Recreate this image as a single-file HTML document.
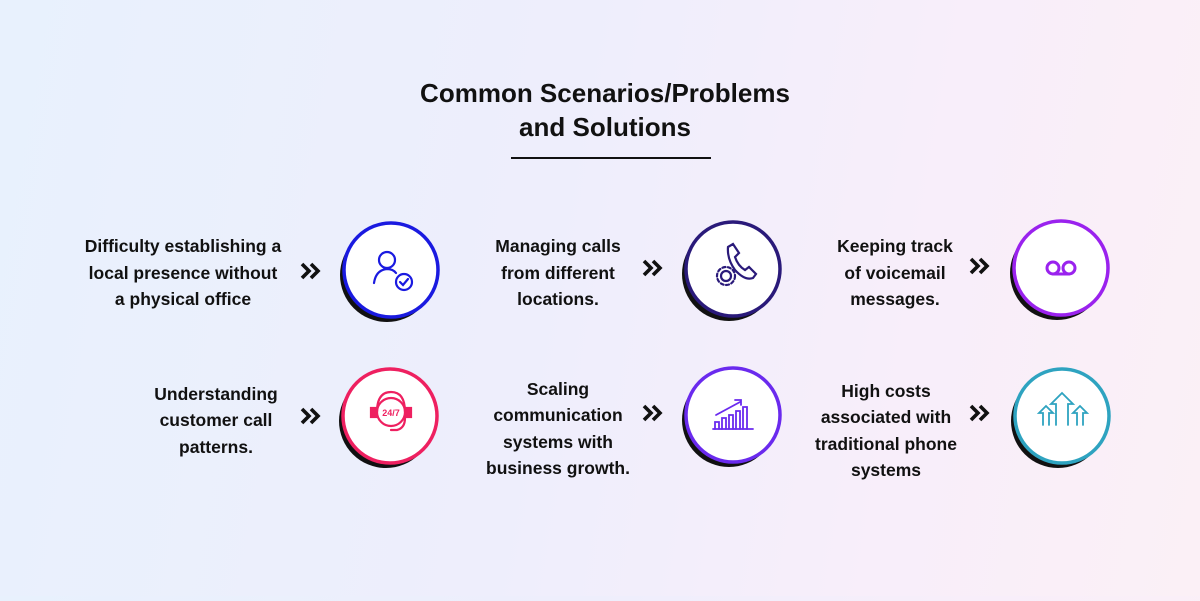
<!DOCTYPE html>
<html><head><meta charset="utf-8"><style>
html,body{margin:0;padding:0}
body{width:1200px;height:596px;overflow:hidden;background:linear-gradient(100deg,#e8f1fd 0%,#eeeefc 45%,#f8eefa 75%,#fbf0f6 100%);font-family:"Liberation Sans",sans-serif}
</style></head><body>
<svg width="1200" height="596" viewBox="0 0 1200 596" xmlns="http://www.w3.org/2000/svg" font-family="Liberation Sans, sans-serif">
<defs><g id="chev" fill="none" stroke="#111" stroke-width="3.6" stroke-linejoin="miter"><path d="M-9 -7 L-2 0 L-9 7 M0 -7 L7 0 L0 7"/></g></defs>
<text x="605" y="102" text-anchor="middle" font-size="26" font-weight="bold" fill="#111">Common Scenarios/Problems</text>
<text x="605" y="136" text-anchor="middle" font-size="26" font-weight="bold" fill="#111">and Solutions</text>
<rect x="511" y="157" width="200" height="2" fill="#111"/>
<g font-size="17.5" font-weight="bold" fill="#111" text-anchor="middle">
<text x="183" y="252">Difficulty establishing a</text>
<text x="183" y="279">local presence without</text>
<text x="183" y="305">a physical office</text>
<text x="558" y="252">Managing calls</text>
<text x="558" y="279">from different</text>
<text x="558" y="305">locations.</text>
<text x="895" y="252">Keeping track</text>
<text x="895" y="279">of voicemail</text>
<text x="895" y="305">messages.</text>
<text x="216" y="400">Understanding</text>
<text x="216" y="426">customer call</text>
<text x="216" y="453">patterns.</text>
<text x="558" y="395">Scaling</text>
<text x="558" y="421">communication</text>
<text x="558" y="448">systems with</text>
<text x="558" y="474">business growth.</text>
<text x="886" y="397">High costs</text>
<text x="886" y="423">associated with</text>
<text x="886" y="450">traditional phone</text>
<text x="886" y="476">systems</text>
</g>
<use href="#chev" x="311" y="271"/>
<use href="#chev" x="653" y="268"/>
<use href="#chev" x="980" y="266"/>
<use href="#chev" x="311" y="416"/>
<use href="#chev" x="653" y="413"/>
<use href="#chev" x="980" y="413"/>
<g stroke-width="3.5" fill="#fff">
<circle cx="387" cy="275" r="47" fill="#111" stroke="none"/><circle cx="391" cy="270" r="47" stroke="#1a1ae0"/>
<circle cx="729" cy="274" r="47" fill="#111" stroke="none"/><circle cx="733" cy="269" r="47" stroke="#2a1a7a"/>
<circle cx="1057" cy="273" r="47" fill="#111" stroke="none"/><circle cx="1061" cy="268" r="47" stroke="#9a22ee"/>
<circle cx="386" cy="421" r="47" fill="#111" stroke="none"/><circle cx="390" cy="416" r="47" stroke="#ee2060"/>
<circle cx="729" cy="420" r="47" fill="#111" stroke="none"/><circle cx="733" cy="415" r="47" stroke="#6a2aee"/>
<circle cx="1058" cy="421" r="47" fill="#111" stroke="none"/><circle cx="1062" cy="416" r="47" stroke="#2ea3c0"/>
</g>
<g fill="none" stroke-width="2.2" stroke-linecap="round">
<g stroke="#1a1ae0"><circle cx="387" cy="260" r="8"/><path d="M374 283 q2-13 13-14 q6 0 9 4"/><circle cx="404" cy="282" r="8"/><path d="M400 282 l3 3 l5-6"/></g>
<g stroke="#2a1a7a"><path d="M728 247 l5-3 l6 9 l-4 4 q3 9 10 13 l4-3 l7 7 l-3 4 q-8 3-18-8 q-8-11-7-23z"/><circle cx="726" cy="276" r="5"/><circle cx="726" cy="276" r="9" stroke-dasharray="3 2.5"/></g>
<g stroke="#9a22ee" stroke-width="3"><circle cx="1053" cy="268" r="6"/><circle cx="1069" cy="268" r="6"/><path d="M1053 274 h16"/></g>
<g stroke="#ee2060"><circle cx="391" cy="412" r="14"/><path d="M377 412 q0-20 14-20 q14 0 14 20"/><rect x="371" y="408" width="5" height="9" fill="#ee2060"/><rect x="406" y="408" width="5" height="9" fill="#ee2060"/><path d="M405 418 q0 10-8 12 h-6"/></g>
<text x="391" y="416" font-size="9" font-weight="bold" fill="#ee2060" text-anchor="middle">24/7</text>
<g stroke="#6a2aee" stroke-width="1.8"><path d="M713 429 h40"/><path d="M715 429 v-7 h4 v7 M722 429 v-11 h4 v11 M729 429 v-14 h4 v14 M736 429 v-18 h4 v18 M743 429 v-22 h4 v22"/><path d="M716 415 l24-13 M735 400 h6 v5"/></g>
<g stroke="#2ea3c0" stroke-width="1.8"><path d="M1056 425 v-21 h-5 l11-11 l11 11 h-5 v21 M1043 425 v-12 h-4 l7-7 l7 7 h-4 v12 M1077 425 v-12 h-4 l7-7 l7 7 h-4 v12"/></g>
</g>
</svg>
</body></html>
